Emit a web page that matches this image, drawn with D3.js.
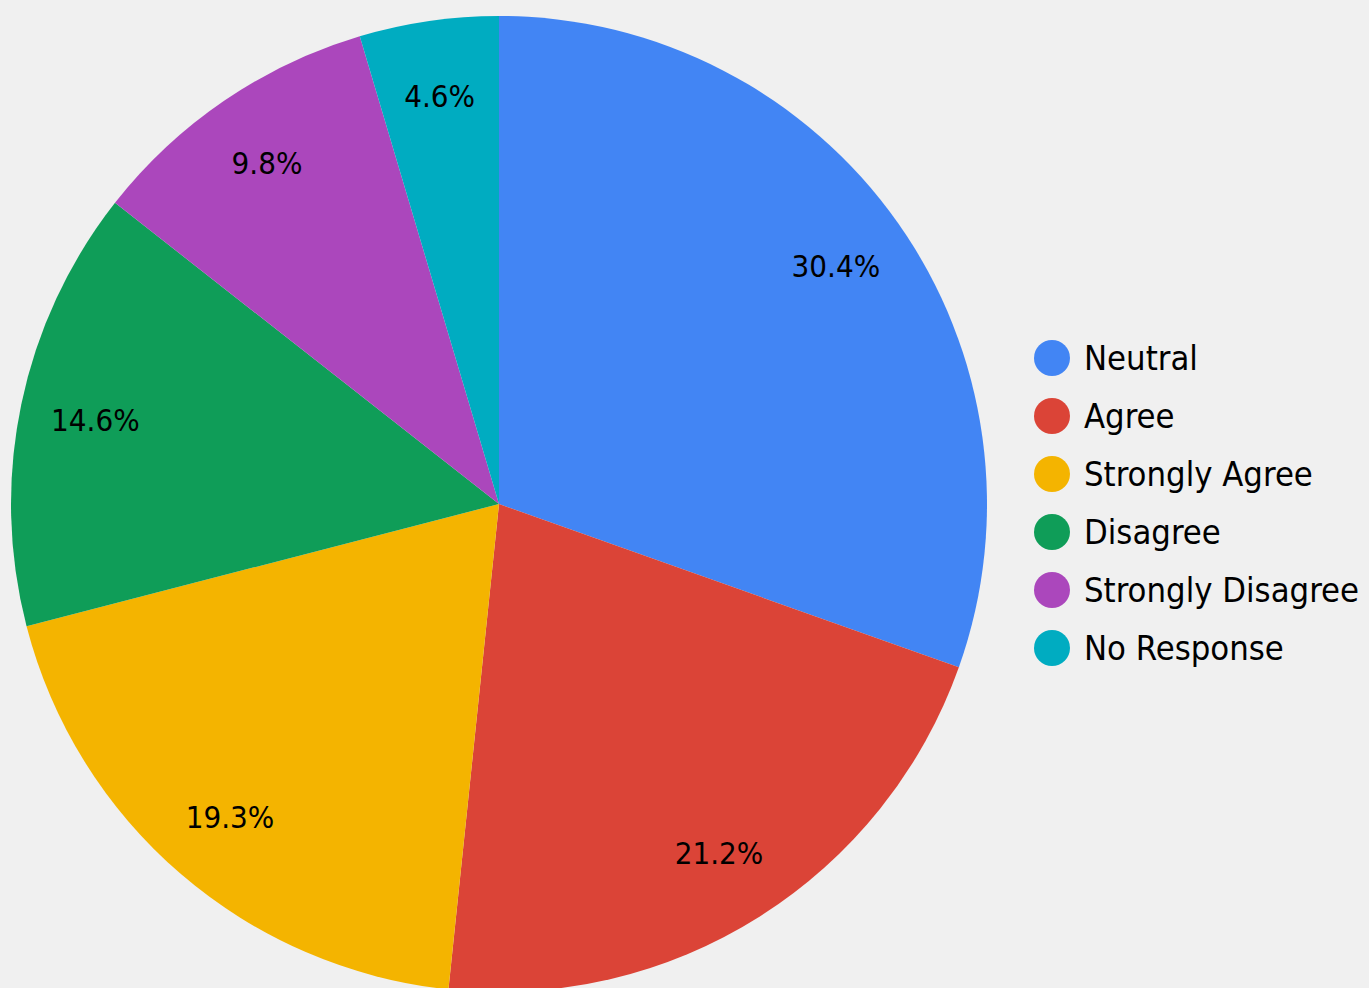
<!DOCTYPE html>
<html>
<head>
<meta charset="utf-8">
<script src="https://cdn.jsdelivr.net/npm/d3@7"></script>
<style>
  html, body { margin: 0; padding: 0; background: #f0f0f0; }
  svg { display: block; }
  text { font-family: "DejaVu Sans Condensed", "DejaVu Sans", sans-serif; font-stretch: condensed; }
</style>
</head>
<body>
<svg id="chart" width="1369" height="988"></svg>
<script>
// Survey response shares (percent)
const categories = ["Neutral", "Agree", "Strongly Agree", "Disagree", "Strongly Disagree", "No Response"];
const values = [30.4, 21.2, 19.3, 14.6, 9.8, 4.6];
const colors = ["#4285f4", "#db4437", "#f4b400", "#0f9d58", "#ab47bc", "#00acc1"];

const svg = d3.select("#chart");
const cx = 499, cy = 504, radius = 488;

const data = categories.map((c, i) => ({ category: c, value: values[i] }));
const color = d3.scaleOrdinal().domain(categories).range(colors);

const pie = d3.pie().value(d => d.value).sort(null);
const arc = d3.arc().innerRadius(0).outerRadius(radius);
const labelArc = d3.arc().innerRadius(radius * 0.845).outerRadius(radius * 0.845);

const g = svg.append("g").attr("transform", `translate(${cx},${cy})`);
const arcs = pie(data);

g.selectAll("path.slice")
  .data(arcs)
  .join("path")
  .attr("class", "slice")
  .attr("d", arc)
  .attr("fill", d => color(d.data.category));

g.selectAll("text.pct")
  .data(arcs)
  .join("text")
  .attr("class", "pct")
  .attr("transform", d => `translate(${labelArc.centroid(d)})`)
  .attr("text-anchor", "middle")
  .attr("dy", "0.36em")
  .attr("font-size", 31)
  .attr("fill", "#000")
  .text(d => d3.format(".1f")(d.data.value) + "%");

// Legend
const legend = svg.append("g").attr("transform", "translate(1052,358)");
const rowH = 58;
const items = legend.selectAll("g.item")
  .data(categories)
  .join("g")
  .attr("class", "item")
  .attr("transform", (d, i) => `translate(0,${i * rowH})`);

items.append("circle")
  .attr("r", 18)
  .attr("fill", d => color(d));

items.append("text")
  .attr("x", 32)
  .attr("dy", "0.36em")
  .attr("font-size", 34.3)
  .attr("fill", "#000")
  .text(d => d);
</script>
</body>
</html>
